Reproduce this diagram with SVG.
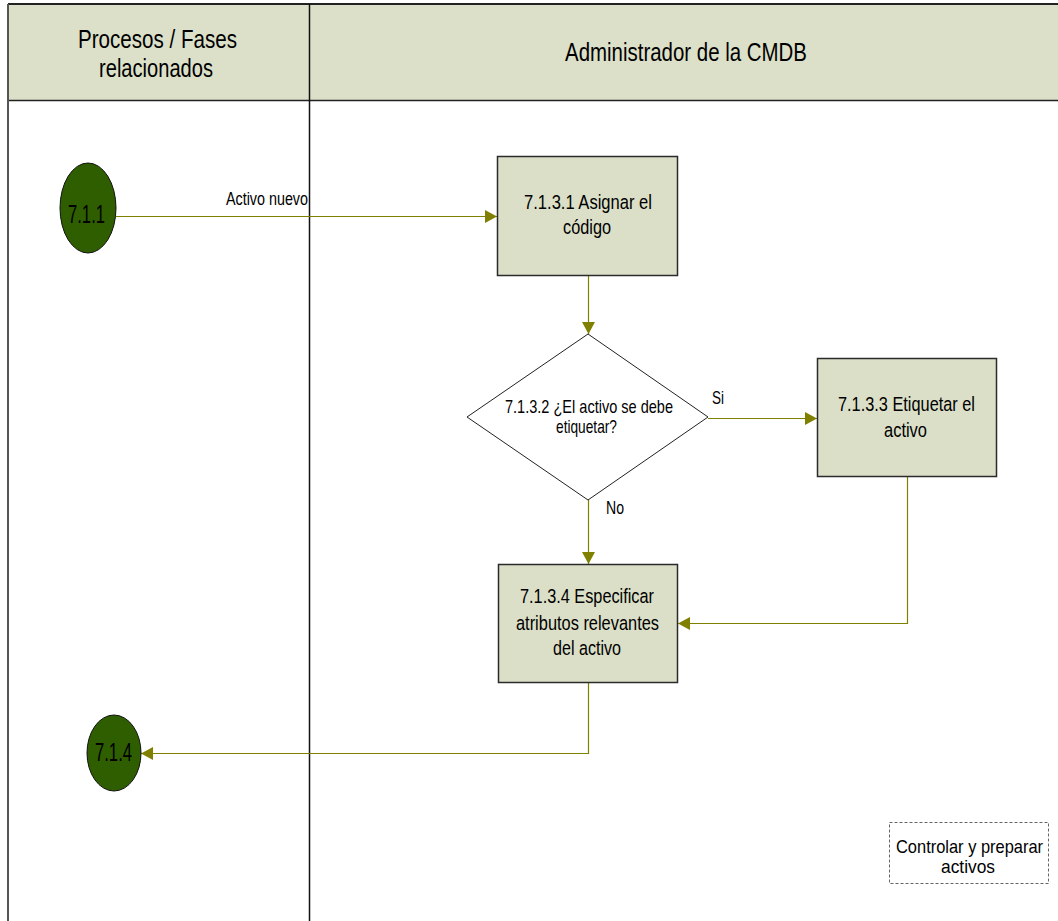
<svg xmlns="http://www.w3.org/2000/svg" width="1058" height="921" viewBox="0 0 1058 921">
  <style>
    text { font-family: "Liberation Sans", Arial, sans-serif; fill: #000; }
    .hdr { font-size: 25px; }
    .lbl { font-size: 20.5px; }
    .dec { font-size: 19px; }
    .note { font-size: 18.5px; }
    .small { font-size: 17.5px; }
    .circ { font-size: 26px; }
    .task { fill: #DBDFC7; stroke: #2b2b2b; stroke-width: 1.5; }
    .term { fill: #2F5E00; stroke: #111; stroke-width: 1; }
    .flow { fill: none; stroke: #808000; stroke-width: 1.2; }
  </style>
  <defs>
    <marker id="arrow" markerUnits="userSpaceOnUse" markerWidth="12" markerHeight="13" refX="12" refY="6.5" orient="auto">
      <path d="M0,0 L12,6.5 L0,13 Z" fill="#808000"/>
    </marker>
  </defs>

  <rect x="0" y="0" width="1058" height="921" fill="#fff"/>

  <!-- swimlane frame and headers -->
  <g id="lanes">
    <rect x="8" y="4" width="1050" height="96" fill="#DCE0C9"/>
    <line x1="8" y1="4" x2="1058" y2="4" stroke="#222" stroke-width="2"/>
    <line x1="8" y1="100.5" x2="1058" y2="100.5" stroke="#222" stroke-width="1.5"/>
    <line x1="8" y1="4" x2="8" y2="921" stroke="#555" stroke-width="2"/>
    <line x1="309.5" y1="4" x2="309.5" y2="921" stroke="#111" stroke-width="1.5"/>
    <text class="hdr" x="78" y="48" textLength="159" lengthAdjust="spacingAndGlyphs">Procesos / Fases</text>
    <text class="hdr" x="99" y="77" textLength="114" lengthAdjust="spacingAndGlyphs">relacionados</text>
    <text class="hdr" x="565" y="61" textLength="242" lengthAdjust="spacingAndGlyphs">Administrador de la CMDB</text>
  </g>

  <!-- connectors -->
  <g id="connectors">
    <line class="flow" x1="116" y1="216.5" x2="497" y2="216.5" marker-end="url(#arrow)"/>
    <text class="small" x="226" y="205" textLength="82" lengthAdjust="spacingAndGlyphs">Activo nuevo</text>
    <line class="flow" x1="588.5" y1="276" x2="588.5" y2="334" marker-end="url(#arrow)"/>
    <line class="flow" x1="708" y1="418.5" x2="817" y2="418.5" marker-end="url(#arrow)"/>
    <text class="dec" x="712" y="404" textLength="12" lengthAdjust="spacingAndGlyphs">Si</text>
    <line class="flow" x1="588.5" y1="500" x2="588.5" y2="564" marker-end="url(#arrow)"/>
    <text class="dec" x="606" y="514" textLength="18" lengthAdjust="spacingAndGlyphs">No</text>
    <polyline class="flow" points="907.5,477 907.5,623.5 678,623.5" marker-end="url(#arrow)"/>
    <polyline class="flow" points="588.5,683 588.5,753.5 141,753.5" marker-end="url(#arrow)"/>
  </g>

  <!-- start / end references -->
  <g id="n711">
    <ellipse class="term" cx="88" cy="208" rx="28" ry="45"/>
    <text class="circ" x="68" y="223" textLength="37" lengthAdjust="spacingAndGlyphs">7.1.1</text>
  </g>
  <g id="n714">
    <ellipse class="term" cx="114" cy="753" rx="27" ry="38"/>
    <text class="circ" x="95" y="761" textLength="37" lengthAdjust="spacingAndGlyphs">7.1.4</text>
  </g>

  <!-- activities -->
  <g id="n7131">
    <rect class="task" x="497.5" y="156.5" width="180" height="119"/>
    <text class="lbl" x="524" y="209" textLength="128" lengthAdjust="spacingAndGlyphs">7.1.3.1 Asignar el</text>
    <text class="lbl" x="563" y="234" textLength="48" lengthAdjust="spacingAndGlyphs">código</text>
  </g>
  <g id="n7132">
    <polygon points="588,334 708,417 588,500 467,417" fill="#fff" stroke="#222" stroke-width="1"/>
    <text class="dec" x="505" y="413" textLength="168" lengthAdjust="spacingAndGlyphs">7.1.3.2 ¿El activo se debe</text>
    <text class="dec" x="556" y="433" textLength="61" lengthAdjust="spacingAndGlyphs">etiquetar?</text>
  </g>
  <g id="n7133">
    <rect class="task" x="817.5" y="358.5" width="179" height="118"/>
    <text class="lbl" x="838" y="411" textLength="137" lengthAdjust="spacingAndGlyphs">7.1.3.3 Etiquetar el</text>
    <text class="lbl" x="884" y="437" textLength="43" lengthAdjust="spacingAndGlyphs">activo</text>
  </g>
  <g id="n7134">
    <rect class="task" x="498.5" y="564.5" width="179" height="118"/>
    <text class="lbl" x="520" y="603" textLength="134" lengthAdjust="spacingAndGlyphs">7.1.3.4 Especificar</text>
    <text class="lbl" x="516" y="630" textLength="143" lengthAdjust="spacingAndGlyphs">atributos relevantes</text>
    <text class="lbl" x="553" y="655" textLength="68" lengthAdjust="spacingAndGlyphs">del activo</text>
  </g>

  <!-- annotation -->
  <g id="note">
    <rect x="889.5" y="822.5" width="159" height="61" fill="none" stroke="#666" stroke-width="1" stroke-dasharray="3,2"/>
    <text class="note" x="896" y="853" textLength="147" lengthAdjust="spacingAndGlyphs">Controlar y preparar</text>
    <text class="note" x="941" y="873" textLength="54" lengthAdjust="spacingAndGlyphs">activos</text>
  </g>
</svg>
